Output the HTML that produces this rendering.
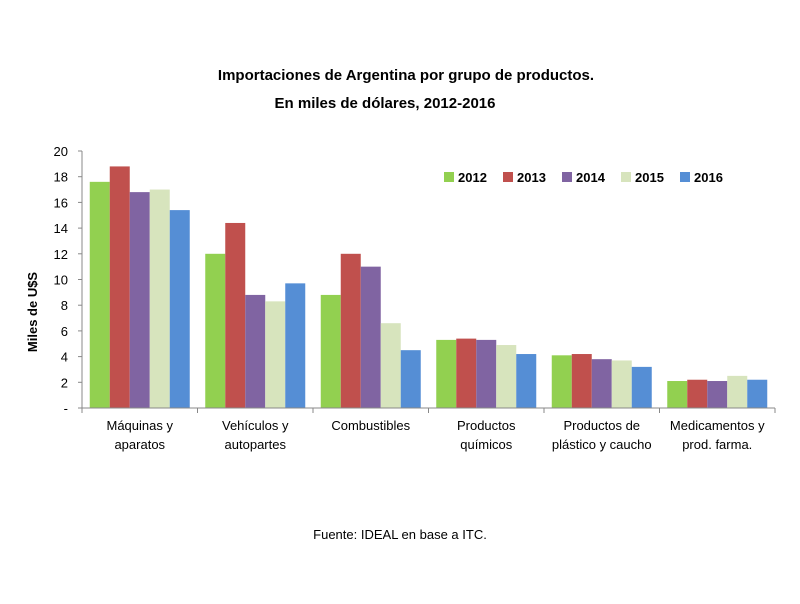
<!DOCTYPE html>
<html><head><meta charset="utf-8"><style>
body{margin:0;background:#fff;width:800px;height:599px;overflow:hidden;font-family:"Liberation Sans",sans-serif}
svg text{font-family:"Liberation Sans",sans-serif}
</style></head><body>
<svg id="chart" width="800" height="599">
<text x="406" y="80" text-anchor="middle" font-size="15" font-weight="bold">Importaciones de Argentina por grupo de productos.</text>
<text x="385" y="108" text-anchor="middle" font-size="15" font-weight="bold">En miles de dólares, 2012-2016</text>
<text transform="translate(37,312) rotate(-90)" text-anchor="middle" font-size="13" font-weight="bold">Miles de U$S</text>
<text x="400" y="539" text-anchor="middle" font-size="13">Fuente: IDEAL en base a ITC.</text>
<g id="plot"></g>
</svg>
<script>
const categories=[["Máquinas y","aparatos"],["Vehículos y","autopartes"],["Combustibles"],["Productos","químicos"],["Productos de","plástico y caucho"],["Medicamentos y","prod. farma."]];
const years=["2012","2013","2014","2015","2016"];
const s2012=[17.6,12.0,8.8,5.3,4.1,2.1];
const s2013=[18.8,14.4,12.0,5.4,4.2,2.2];
const s2014=[16.8,8.8,11.0,5.3,3.8,2.1];
const s2015=[17.0,8.3,6.6,4.9,3.7,2.5];
const s2016=[15.4,9.7,4.5,4.2,3.2,2.2];
const yTicks=[0,2,4,6,8,10,12,14,16,18,20];
const yTickLabels=["-","2","4","6","8","10","12","14","16","18","20"];
const series=[s2012,s2013,s2014,s2015,s2016];
const colors=["#92d050","#c0504d","#8064a2","#d7e4bd","#558ed5"];
const ns="http://www.w3.org/2000/svg",g=document.getElementById("plot");
const X0=82,X1=775,Y0=408,Y1=151,YMAX=20;
const cw=(X1-X0)/categories.length,bw=20;
const y=v=>Y0-(v/YMAX)*(Y0-Y1);
function el(t,a,txt){const e=document.createElementNS(ns,t);for(const k in a)e.setAttribute(k,a[k]);if(txt!=null)e.textContent=txt;g.appendChild(e);return e;}
yTicks.forEach((t,i)=>{
 const tl=el("text",{x:68,y:y(t)+5,"text-anchor":"end","font-size":"13"},yTickLabels[i]);
 
 
 el("line",{x1:X0-4,x2:X0,y1:y(t),y2:y(t),stroke:"#888"});
});
categories.forEach((c,ci)=>{
 const gx=X0+ci*cw+(cw-bw*5)/2;
 series.forEach((s,si)=>{
  const r=el("rect",{x:gx+si*bw,y:y(s[ci]),width:bw,height:Y0-y(s[ci]),fill:colors[si]});
  
  
 });
 el("line",{x1:X0+(ci+1)*cw,x2:X0+(ci+1)*cw,y1:Y0,y2:Y0+5,stroke:"#888"});
 c.forEach((ln,li)=>{
  const t=el("text",{x:X0+ci*cw+cw/2,y:430+li*19,"text-anchor":"middle","font-size":"13"},ln);
  
  
 });
});
el("line",{x1:X0,x2:X0,y1:Y1,y2:Y0+5,stroke:"#888"});
el("line",{x1:X0,x2:X1,y1:Y0,y2:Y0,stroke:"#888"});
years.forEach((yr,i)=>{
 const lx=444+i*59;
 const sw=el("rect",{x:lx,y:172,width:10,height:10,fill:colors[i]});
 
 
 const t=el("text",{x:lx+14,y:182,"font-size":"13","font-weight":"bold"},yr);
 
 
});
</script>
</body></html>
